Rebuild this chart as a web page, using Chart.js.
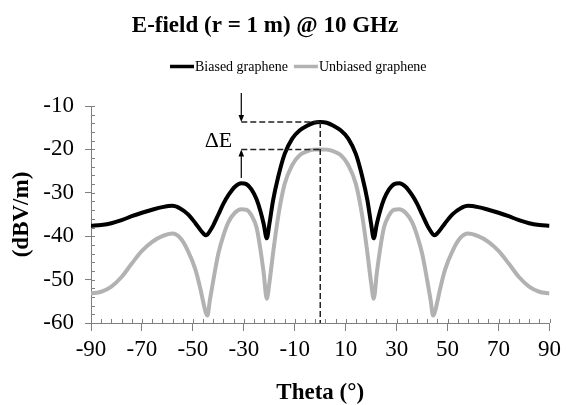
<!DOCTYPE html>
<html>
<head>
<meta charset="utf-8">
<script src="https://cdn.jsdelivr.net/npm/chart.js@4/dist/chart.umd.min.js"></script>
<style>
  html, body { margin: 0; padding: 0; background: #fff; }
</style>
</head>
<body>
<canvas id="efield" width="566" height="405"></canvas>
<script>
// angle (deg) and field level (dBV/m)
const theta = [-90, -86, -82, -78, -74, -70, -66, -62, -58, -55, -52, -49, -47, -46, -45, -44.3, -43.3, -42, -40, -38,
  -36, -33.5, -31, -29, -27, -25, -23.5, -22.2, -21, -20, -18.5, -16.5, -14, -11, -8, -5, -2.5, 0,
  2.5, 5, 8, 11, 14, 16.5, 18.5, 20, 21, 22.2, 23.5, 25, 27, 29, 31, 33.5, 36, 38, 40, 42, 43.3, 44.3,
  45, 46, 47, 49, 52, 55, 58, 62, 66, 70, 74, 78, 82, 86, 90];

const biased = [-37.6, -37.4, -37.0, -36.3, -35.4, -34.6, -33.9, -33.3, -33.0, -33.6, -34.9, -37.0, -38.6, -39.3, -39.8, -39.6, -38.8, -37.5, -35.0, -32.5,
  -30.5, -28.6, -27.8, -28.0, -29.2, -31.5, -34.2, -37.2, -40.5, -37.3, -31.7, -26.3, -21.1, -17.5, -15.6, -14.5, -13.85, -13.7,
  -13.85, -14.5, -15.6, -17.5, -21.1, -26.3, -31.7, -37.3, -40.5, -37.2, -34.2, -31.5, -29.2, -28.0, -27.8, -28.6, -30.5, -32.5, -35.0, -37.5, -38.8, -39.6,
  -39.8, -39.3, -38.6, -37.0, -34.9, -33.6, -33.0, -33.3, -33.9, -34.6, -35.4, -36.3, -37.0, -37.4, -37.6];

const unbiased = [-53.2, -52.8, -51.6, -49.4, -46.3, -43.4, -41.3, -40.0, -39.4, -40.4, -43.3, -47.7, -52.3, -55.0, -57.5, -58.3, -54.6, -50.2, -44.0, -39.8,
  -36.7, -34.6, -33.8, -33.9, -35.2, -38.0, -43.0, -48.5, -54.4, -50.9, -43.8, -35.4, -28.0, -23.6, -21.3, -20.4, -20.05, -20.0,
  -20.05, -20.4, -21.3, -23.6, -28.0, -35.4, -43.8, -50.9, -54.4, -48.5, -43.0, -38.0, -35.2, -33.9, -33.8, -34.6, -36.7, -39.8, -44.0, -50.2, -54.6, -58.3,
  -57.5, -55.0, -52.3, -47.7, -43.3, -40.4, -39.4, -40.0, -41.3, -43.4, -46.3, -49.4, -51.6, -52.8, -53.2];

const seriesNames = ['Biased graphene', 'Unbiased graphene'];
const xTicks = [-90, -70, -50, -30, -10, 10, 30, 50, 70, 90];
const yTicks = [-60, -50, -40, -30, -20, -10];
const chartTitle = 'E-field (r = 1 m) @ 10 GHz';

const SERIF = "'Liberation Serif', 'Times New Roman', serif";
const AXIS = '#7f7f7f';

// minor ticks, ΔE markers, title and legend drawn by hand
const extras = {
  id: 'extras',
  afterDatasetsDraw(chart) {
    const { ctx, chartArea, scales: { x, y } } = chart;
    ctx.save();

    // minor ticks pointing inward
    ctx.strokeStyle = AXIS;
    ctx.lineWidth = 1;
    ctx.beginPath();
    for (let v = -90; v <= 90; v += 4) {
      const px = Math.round(x.getPixelForValue(v)) + 0.5;
      ctx.moveTo(px, chartArea.bottom);
      ctx.lineTo(px, chartArea.bottom - 4);
    }
    for (let v = -60; v <= -10; v += 2) {
      const py = Math.round(y.getPixelForValue(v)) + 0.5;
      ctx.moveTo(chartArea.left, py);
      ctx.lineTo(chartArea.left + 4, py);
    }
    ctx.stroke();

    // dashed guides to the two peaks
    const peakB = Math.max(...biased);
    const peakU = Math.max(...unbiased);
    const px0 = x.getPixelForValue(theta[biased.indexOf(peakB)]);
    const ax = x.getPixelForValue(-31);
    const yB = y.getPixelForValue(peakB);
    const yU = y.getPixelForValue(peakU);

    ctx.strokeStyle = '#222';
    ctx.lineWidth = 1.5;
    ctx.setLineDash([6, 3]);
    ctx.beginPath();
    ctx.moveTo(ax, yB); ctx.lineTo(px0, yB);
    ctx.moveTo(ax, yU); ctx.lineTo(px0, yU);
    ctx.moveTo(px0, yB); ctx.lineTo(px0, chartArea.bottom);
    ctx.stroke();
    ctx.setLineDash([]);

    // arrows
    const arrow = (fromY, toY) => {
      const dir = Math.sign(toY - fromY);
      ctx.strokeStyle = '#000';
      ctx.fillStyle = '#000';
      ctx.lineWidth = 1.2;
      ctx.beginPath();
      ctx.moveTo(ax, fromY);
      ctx.lineTo(ax, toY - dir * 6);
      ctx.stroke();
      ctx.beginPath();
      ctx.moveTo(ax, toY);
      ctx.lineTo(ax - 2.8, toY - dir * 7);
      ctx.lineTo(ax + 2.8, toY - dir * 7);
      ctx.closePath();
      ctx.fill();
    };
    arrow(y.getPixelForValue(-7.0), yB);
    arrow(y.getPixelForValue(-26.6), yU);

    ctx.fillStyle = '#000';
    ctx.font = `22px ${SERIF}`;
    ctx.textAlign = 'right';
    ctx.textBaseline = 'alphabetic';
    ctx.fillText('\u0394E', ax - 9, y.getPixelForValue(-19.4));
    ctx.restore();
  },
  afterDraw(chart) {
    const { ctx } = chart;
    ctx.save();
    ctx.fillStyle = '#000';
    ctx.font = `bold 23px ${SERIF}`;
    ctx.textAlign = 'center';
    ctx.textBaseline = 'alphabetic';
    ctx.fillText(chartTitle, 265, 31.5);

    ctx.font = `14px ${SERIF}`;
    ctx.textBaseline = 'middle';
    ctx.textAlign = 'left';
    let lx = 170;
    const ly = 66.5;
    chart.data.datasets.forEach(ds => {
      ctx.strokeStyle = ds.borderColor;
      ctx.lineWidth = 3.5;
      ctx.beginPath();
      ctx.moveTo(lx, ly);
      ctx.lineTo(lx + 24, ly);
      ctx.stroke();
      ctx.fillStyle = '#000';
      ctx.fillText(ds.label, lx + 25, ly + 0.5);
      lx += 25 + ctx.measureText(ds.label).width + 6;
    });
    ctx.restore();
  }
};

const toPoints = vals => vals.map((v, i) => ({ x: theta[i], y: v }));

new Chart(document.getElementById('efield'), {
  type: 'line',
  data: {
    datasets: [
      { label: seriesNames[0], data: toPoints(biased), borderColor: '#000000', borderWidth: 4 },
      { label: seriesNames[1], data: toPoints(unbiased), borderColor: '#b2b2b2', borderWidth: 4 }
    ]
  },
  options: {
    responsive: false,
    animation: false,
    devicePixelRatio: 1,
    layout: { padding: { top: 106, left: 0, right: 12, bottom: 0 } },
    elements: {
      point: { radius: 0 },
      line: { cubicInterpolationMode: 'monotone', fill: false }
    },
    plugins: {
      legend: { display: false },
      tooltip: { enabled: false },
      title: { display: false }
    },
    scales: {
      x: {
        type: 'linear',
        min: -90,
        max: 90,
        afterBuildTicks: s => { s.ticks = xTicks.map(v => ({ value: v })); },
        afterFit: s => { s.height = 82; },
        grid: { drawOnChartArea: false, drawTicks: true, tickLength: 8, color: AXIS },
        border: { display: true, color: AXIS, width: 1 },
        ticks: { color: '#000', padding: 5, maxRotation: 0, font: { family: SERIF, size: 23 } },
        title: {
          display: true,
          text: 'Theta (°)',
          color: '#000',
          font: { family: SERIF, size: 23, weight: 'bold', lineHeight: 1 },
          padding: { top: 0, bottom: 0 }
        }
      },
      y: {
        min: -60,
        max: -10,
        afterBuildTicks: s => { s.ticks = yTicks.map(v => ({ value: v })); },
        afterFit: s => { s.width = 91; },
        grid: { drawOnChartArea: false, drawTicks: true, tickLength: 6, color: AXIS },
        border: { display: true, color: AXIS, width: 1 },
        ticks: { color: '#000', padding: 11, font: { family: SERIF, size: 23 } },
        title: {
          display: true,
          text: '(dBV/m)',
          color: '#000',
          font: { family: SERIF, size: 23, weight: 'bold', lineHeight: 1.2 },
          padding: { top: 8, bottom: 0 }
        }
      }
    }
  },
  plugins: [extras]
});
</script>
</body>
</html>
